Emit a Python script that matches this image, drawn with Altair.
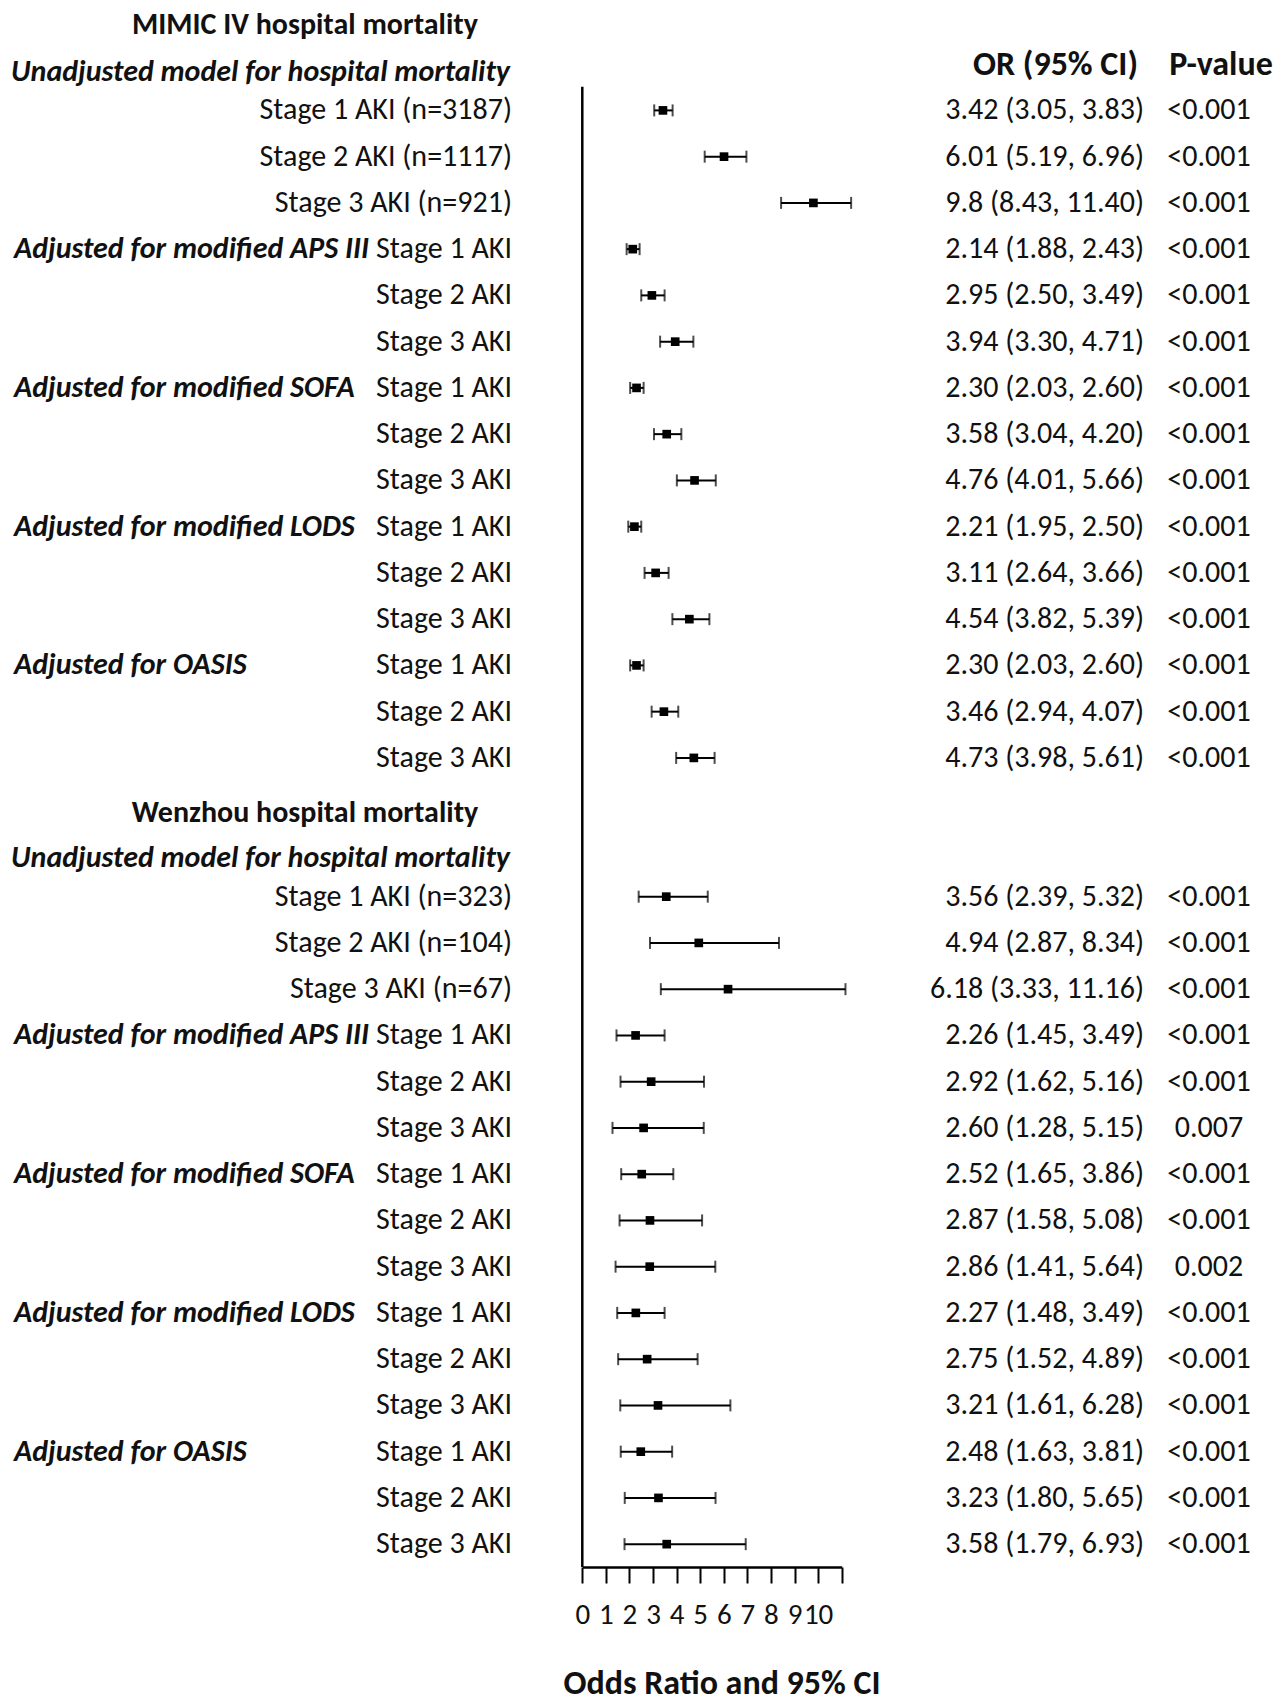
import altair as alt
import pandas as pd

# ---------------- data ----------------
mimic_labels = ["Stage 1 AKI (n=3187)", "Stage 2 AKI (n=1117)", "Stage 3 AKI (n=921)",
                "Stage 1 AKI", "Stage 2 AKI", "Stage 3 AKI",
                "Stage 1 AKI", "Stage 2 AKI", "Stage 3 AKI",
                "Stage 1 AKI", "Stage 2 AKI", "Stage 3 AKI",
                "Stage 1 AKI", "Stage 2 AKI", "Stage 3 AKI"]
mimic_or = [3.42, 6.01, 9.8, 2.14, 2.95, 3.94, 2.30, 3.58, 4.76, 2.21, 3.11, 4.54, 2.30, 3.46, 4.73]
mimic_lo = [3.05, 5.19, 8.43, 1.88, 2.50, 3.30, 2.03, 3.04, 4.01, 1.95, 2.64, 3.82, 2.03, 2.94, 3.98]
mimic_hi = [3.83, 6.96, 11.40, 2.43, 3.49, 4.71, 2.60, 4.20, 5.66, 2.50, 3.66, 5.39, 2.60, 4.07, 5.61]
mimic_ortxt = ["3.42 (3.05, 3.83)", "6.01 (5.19, 6.96)", "9.8 (8.43, 11.40)",
               "2.14 (1.88, 2.43)", "2.95 (2.50, 3.49)", "3.94 (3.30, 4.71)",
               "2.30 (2.03, 2.60)", "3.58 (3.04, 4.20)", "4.76 (4.01, 5.66)",
               "2.21 (1.95, 2.50)", "3.11 (2.64, 3.66)", "4.54 (3.82, 5.39)",
               "2.30 (2.03, 2.60)", "3.46 (2.94, 4.07)", "4.73 (3.98, 5.61)"]
mimic_p = ["<0.001"] * 15

wz_labels = ["Stage 1 AKI (n=323)", "Stage 2 AKI (n=104)", "Stage 3 AKI (n=67)",
             "Stage 1 AKI", "Stage 2 AKI", "Stage 3 AKI",
             "Stage 1 AKI", "Stage 2 AKI", "Stage 3 AKI",
             "Stage 1 AKI", "Stage 2 AKI", "Stage 3 AKI",
             "Stage 1 AKI", "Stage 2 AKI", "Stage 3 AKI"]
wz_or = [3.56, 4.94, 6.18, 2.26, 2.92, 2.60, 2.52, 2.87, 2.86, 2.27, 2.75, 3.21, 2.48, 3.23, 3.58]
wz_lo = [2.39, 2.87, 3.33, 1.45, 1.62, 1.28, 1.65, 1.58, 1.41, 1.48, 1.52, 1.61, 1.63, 1.80, 1.79]
wz_hi = [5.32, 8.34, 11.16, 3.49, 5.16, 5.15, 3.86, 5.08, 5.64, 3.49, 4.89, 6.28, 3.81, 5.65, 6.93]
wz_ortxt = ["3.56 (2.39, 5.32)", "4.94 (2.87, 8.34)", "6.18 (3.33, 11.16)",
            "2.26 (1.45, 3.49)", "2.92 (1.62, 5.16)", "2.60 (1.28, 5.15)",
            "2.52 (1.65, 3.86)", "2.87 (1.58, 5.08)", "2.86 (1.41, 5.64)",
            "2.27 (1.48, 3.49)", "2.75 (1.52, 4.89)", "3.21 (1.61, 6.28)",
            "2.48 (1.63, 3.81)", "3.23 (1.80, 5.65)", "3.58 (1.79, 6.93)"]
wz_p = ["<0.001", "<0.001", "<0.001", "<0.001", "<0.001", "0.007",
        "<0.001", "<0.001", "0.002", "<0.001", "<0.001", "<0.001",
        "<0.001", "<0.001", "<0.001"]

group_names = ["Adjusted for modified APS III", "Adjusted for modified SOFA",
               "Adjusted for modified LODS", "Adjusted for OASIS"]
section_titles = ["MIMIC IV  hospital mortality", "Wenzhou  hospital mortality"]
unadj_title = "Unadjusted model for hospital mortality"
axis_ticks = list(range(0, 12))

# ---------------- tables ----------------
mimic_rows = list(range(0, 15))
wz_rows = list(range(17, 32))

df = pd.DataFrame({
    "r": mimic_rows + wz_rows,
    "label": mimic_labels + wz_labels,
    "or": mimic_or + wz_or,
    "lo": mimic_lo + wz_lo,
    "hi": mimic_hi + wz_hi,
    "ortxt": mimic_ortxt + wz_ortxt,
    "p": mimic_p + wz_p,
})

groups = pd.DataFrame({
    "r": [3, 6, 9, 12, 20, 23, 26, 29],
    "g": group_names + group_names,
})
sections = pd.DataFrame({"r": [-1.85, 15.2], "t": section_titles})
unadj = pd.DataFrame({"r": [-0.84, 16.17], "t": [unadj_title, unadj_title]})
header = pd.DataFrame({"r": [-0.98]})
vline = pd.DataFrame({"x": [0], "r1": [-0.51], "r2": [31.494]})

FONT = "Carlito, Lato, Open Sans, sans-serif"
TXT = "#111111"
FS = 30

yscale = alt.Scale(domain=[-2.214, 31.494], range=[0, 1559], nice=False, zero=False)
xscale = alt.Scale(domain=[0, 11], range=[574.3, 833.7], nice=False, zero=False)

Y = alt.Y("r:Q", scale=yscale, axis=None)

base = alt.Chart(df)

ci = base.mark_rule(color="black", strokeWidth=2).encode(
    x=alt.X("lo:Q", scale=xscale,
            axis=alt.Axis(values=axis_ticks, format="d",
                          labelExpr="datum.value == 11 ? '' : datum.label",
                          labelOverlap=False, labelFlush=False, title=None, grid=False,
                          domainColor="black", domainWidth=2.5, tickColor="black",
                          tickWidth=2, tickSize=16, labelPadding=17,
                          labelFont=FONT, labelFontSize=29, labelColor=TXT)),
    x2="hi:Q",
    y=Y,
)
cap_lo = base.mark_tick(color="black", orient="vertical", size=12, thickness=2).encode(
    x=alt.X("lo:Q", scale=xscale), y=Y)
cap_hi = base.mark_tick(color="black", orient="vertical", size=12, thickness=2).encode(
    x=alt.X("hi:Q", scale=xscale), y=Y)
pts = base.mark_square(color="black", size=75, opacity=1).encode(
    x=alt.X("or:Q", scale=xscale), y=Y)

vrule = alt.Chart(vline).mark_rule(color="black", strokeWidth=2.5).encode(
    x=alt.X("x:Q", scale=xscale), y=alt.Y("r1:Q", scale=yscale, axis=None), y2="r2:Q")

row_lab = base.mark_text(align="right", baseline="middle", font=FONT, fontSize=FS, color=TXT).encode(
    x=alt.value(504), y=Y, text="label:N")
or_lab = base.mark_text(align="right", baseline="middle", font=FONT, fontSize=FS, color=TXT).encode(
    x=alt.value(1136), y=Y, text="ortxt:N")
p_lab = base.mark_text(align="center", baseline="middle", font=FONT, fontSize=FS, color=TXT).encode(
    x=alt.value(1201), y=Y, text="p:N")

grp_lab = alt.Chart(groups).mark_text(align="left", baseline="middle", font=FONT, fontSize=FS,
                                      fontStyle="italic", fontWeight="bold", color=TXT).encode(
    x=alt.value(6), y=Y, text="g:N")
unadj_lab = alt.Chart(unadj).mark_text(align="left", baseline="middle", font=FONT, fontSize=FS,
                                       fontStyle="italic", fontWeight="bold", color=TXT).encode(
    x=alt.value(3), y=Y, text="t:N")
sec_lab = alt.Chart(sections).mark_text(align="center", baseline="middle", font=FONT, fontSize=30,
                                        fontWeight="bold", color=TXT).encode(
    x=alt.value(297), y=Y, text="t:N")
hdr_or = alt.Chart(header).mark_text(align="right", baseline="middle", font=FONT, fontSize=34,
                                     fontWeight="bold", color=TXT).encode(
    x=alt.value(1130), y=Y, text=alt.value("OR (95% CI)"))
hdr_p = alt.Chart(header).mark_text(align="center", baseline="middle", font=FONT, fontSize=34,
                                    fontWeight="bold", color=TXT).encode(
    x=alt.value(1213), y=Y, text=alt.value("P-value"))
xtitle = alt.Chart(header).mark_text(align="center", baseline="middle", font=FONT, fontSize=34,
                                     fontWeight="bold", color=TXT).encode(
    x=alt.value(714), y=alt.value(1676), text=alt.value("Odds Ratio and 95% CI"))

chart = alt.layer(
    ci, cap_lo, cap_hi, pts, vrule,
    row_lab, or_lab, p_lab, grp_lab, unadj_lab, sec_lab, hdr_or, hdr_p, xtitle,
).properties(
    width=1265, height=1559, background="white", padding=0,
).configure_view(stroke=None)

chart.save("out.html", embed_options={"renderer": "svg", "actions": False})
